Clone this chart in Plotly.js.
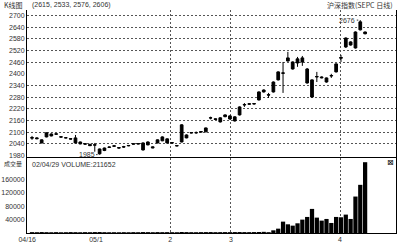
<!DOCTYPE html>
<html>
<head>
<meta charset="utf-8">
<script src="https://cdn.plot.ly/plotly-3.0.1.min.js"></script>
<style>html,body{margin:0;padding:0;background:#fff;}#chart{width:400px;height:244px;}</style>
</head>
<body>
<div id="chart"></div>
<script>
// ---- data ----
const dayIndex = [];
for (let i = 0; i < 70; i++) dayIndex.push(i);

const openP  = [2073,2071,2061,2076,2091,2092,2077,2072,2067,2071,2050,2041,2038,2036,2014,2006,2022,2028,2021,2026,
                2030,2041,2042,2045,2035,2025,2045,2056,2066,2047,2032,2050,2086,2096,2097,2101,2102,2173,2169,2174,
                2180,2184,2179,2189,2240,2244,2245,2266,2307,2293,2307,2369,2405,2466,2461,2456,2482,2425,2369,2384,
                2384,2379,2389,2410,2480,2538,2564,2533,2626,2615];
const highP  = [2081,2075,2063,2099,2094,2094,2079,2074,2069,2086,2052,2043,2040,2045,2016,2021,2026,2032,2023,2030,
                2034,2043,2044,2048,2053,2027,2063,2079,2068,2049,2034,2141,2089,2100,2104,2105,2124,2180,2171,2177,
                2192,2187,2182,2233,2250,2249,2250,2310,2320,2302,2361,2413,2461,2513,2464,2487,2492,2430,2372,2410,
                2387,2381,2400,2454,2497,2587,2567,2618,2676,2617];
const lowP   = [2061,2064,2043,2074,2079,2088,2073,2069,2063,2043,2038,2036,2029,2000,1985,2003,2020,2025,2017,2020,
                2028,2037,2038,2006,2033,2018,2043,2054,2043,2043,2028,2048,2069,2094,2092,2099,2100,2166,2163,2150,
                2177,2165,2155,2186,2230,2241,2242,2263,2304,2276,2304,2366,2302,2463,2422,2436,2441,2350,2276,2358,
                2377,2355,2379,2407,2461,2533,2545,2530,2623,2603];
const closeP = [2070,2067,2045,2097,2081,2090,2075,2071,2065,2045,2040,2039,2031,2034,1989,2019,2024,2030,2019,2024,
                2032,2039,2040,2009,2050,2020,2061,2076,2045,2045,2030,2138,2071,2098,2098,2103,2122,2174,2166,2153,
                2189,2168,2158,2230,2242,2246,2247,2307,2317,2291,2358,2410,2403,2482,2425,2477,2461,2353,2281,2386,
                2380,2358,2391,2451,2484,2584,2548,2615,2667,2606];
const volume = [2600,2400,2800,2500,2300,2600,2200,2400,2700,2500,2300,2600,2400,2800,2900,2500,2300,2400,2200,2500,
                2300,2600,2400,2800,2600,2400,2700,2500,2600,2400,2300,3000,2700,2500,2400,2600,2700,2800,2500,2600,
                2700,2600,2800,2900,2700,2600,2800,3000,3500,2500,8000,13000,34000,26000,22000,29000,40000,48000,72000,46000,
                37000,42000,30000,48000,47000,55000,42000,109000,144000,211652];

const priceTicks = [2700,2640,2580,2520,2460,2400,2340,2280,2220,2160,2100,2040,1980];
const priceGridTicks = [2700,2640,2580,2520,2460,2340,2280,2220,2160,2100,2040];
const volTicks = [40000,80000,120000,160000];
const volTickText = ['40000','80000','120000','160000'];
const volGridTicks = [40000,80000,120000];
const xTickPos = [-1.0,13.25,28.6,41.2,63.8];
const xTickText = ['04/16','05/1','2','3','4'];
const xGridPos = [28.6,41.2,63.8];

const highLabel = {x: 68, y: 2676, text: '2676'};
const lowLabel  = {x: 14, y: 1985, text: '1985'};

// ---- styles ----
const FONT = 'Liberation Sans, Arial, sans-serif';
const CJK = 'Noto Sans CJK SC, sans-serif';
const gridStyle = {showgrid: true, gridcolor: '#555', gridwidth: 1, griddash: '2px,2px'};
const xRange = [-1.04, 75.4];
const pRange = [1973, 2728];
const vRange = [0, 224000];

const black = {line: {color: '#000', width: 1}, fillcolor: '#000'};
const data = [
  {type: 'candlestick', x: dayIndex, open: openP, high: highP, low: lowP, close: closeP,
   increasing: black, decreasing: black, whiskerwidth: 0, xaxis: 'x', yaxis: 'y',
   hoverinfo: 'skip', showlegend: false},
  {type: 'bar', x: dayIndex, y: volume, marker: {color: '#000', line: {width: 0}},
   xaxis: 'x2', yaxis: 'y2', hoverinfo: 'skip', showlegend: false},
  {type: 'scatter', x: [], y: [], xaxis: 'x', yaxis: 'y3', showlegend: false, hoverinfo: 'skip'},
  {type: 'scatter', x: [], y: [], xaxis: 'x3', yaxis: 'y2', showlegend: false, hoverinfo: 'skip'}
];

const tickFont = {family: FONT, size: 7, color: '#333'};
const layout = {
  width: 400, height: 244,
  margin: {l: 27, r: 4, t: 10, b: 11, pad: 0},
  paper_bgcolor: '#fff', plot_bgcolor: 'rgba(0,0,0,0)',
  showlegend: false, boxgap: 0.2, bargap: 0.12,
  xaxis: Object.assign({domain: [0, 1], anchor: 'y', range: xRange, tickmode: 'array', tickvals: xGridPos,
    showticklabels: false, ticks: '', showline: true, linecolor: '#000', linewidth: 1, zeroline: false,
    rangeslider: {visible: false}, fixedrange: true}, gridStyle),
  yaxis: {domain: [0.341, 1], anchor: 'x', range: pRange, tickmode: 'array', tickvals: priceTicks,
    ticktext: priceTicks.map(String), tickfont: tickFont, showgrid: false, ticks: '',
    showline: true, mirror: true, linecolor: '#000', linewidth: 1, zeroline: false},
  yaxis3: Object.assign({overlaying: 'y', anchor: 'x', range: pRange, tickmode: 'array', tickvals: priceGridTicks,
    showticklabels: false, ticks: '', showline: false, zeroline: false}, gridStyle),
  xaxis2: {domain: [0, 1], anchor: 'y2', range: xRange, tickmode: 'array', tickvals: xTickPos, ticktext: xTickText,
    tickfont: tickFont, showgrid: false, ticks: '', showline: true, mirror: true, linecolor: '#000', linewidth: 1,
    zeroline: false},
  xaxis3: Object.assign({overlaying: 'x2', anchor: 'y2', range: xRange, tickmode: 'array', tickvals: xGridPos,
    showticklabels: false, ticks: '', showline: false, zeroline: false}, gridStyle),
  yaxis2: {domain: [0, 0.336], anchor: 'x2', range: vRange, tickmode: 'array', tickvals: volTicks,
    ticktext: volTickText, tickfont: tickFont, showgrid: false, ticks: '',
    showline: true, mirror: true, linecolor: '#000', linewidth: 1, zeroline: false},
  annotations: [
    {xref: 'paper', yref: 'paper', x: -0.068, y: 1.022, xanchor: 'left', yanchor: 'middle', showarrow: false,
     text: 'K线图', font: {family: CJK, size: 7, color: '#333'}},
    {xref: 'paper', yref: 'paper', x: 0.008, y: 1.022, xanchor: 'left', yanchor: 'middle', showarrow: false,
     text: '(2615, 2533, 2576, 2606)', font: {family: FONT, size: 7, color: '#333'}},
    {xref: 'paper', yref: 'paper', x: 0.997, y: 1.022, xanchor: 'right', yanchor: 'middle', showarrow: false,
     text: '沪深指数(SEPC 日线)', font: {family: CJK, size: 7, color: '#333'}},
    {xref: 'paper', yref: 'paper', x: -0.068, y: 0.312, xanchor: 'left', yanchor: 'middle', showarrow: false,
     text: '成交量', font: {family: CJK, size: 6, color: '#333'}},
    {xref: 'paper', yref: 'paper', x: 0.008, y: 0.305, xanchor: 'left', yanchor: 'middle', showarrow: false,
     text: '02/04/29 VOLUME:211652', font: {family: FONT, size: 7, color: '#333'}},
    {xref: 'paper', yref: 'paper', x: 0.999, y: 0.318, xanchor: 'right', yanchor: 'middle', showarrow: false,
     text: '⊠', font: {family: 'DejaVu Sans', size: 8, color: '#000'}},
    {xref: 'x', yref: 'y', x: highLabel.x, y: highLabel.y, text: highLabel.text, showarrow: true,
     arrowhead: 0, arrowwidth: 1, arrowcolor: '#333', ax: -13, ay: 0, standoff: 2,
     font: {family: FONT, size: 7, color: '#333'}},
    {xref: 'x', yref: 'y', x: lowLabel.x, y: lowLabel.y, text: lowLabel.text, showarrow: true,
     arrowhead: 0, arrowwidth: 1, arrowcolor: '#333', ax: -13, ay: 0, standoff: 2,
     font: {family: FONT, size: 7, color: '#333'}}
  ]
};

Plotly.newPlot('chart', data, layout, {staticPlot: true, displayModeBar: false});
</script>
</body>
</html>
